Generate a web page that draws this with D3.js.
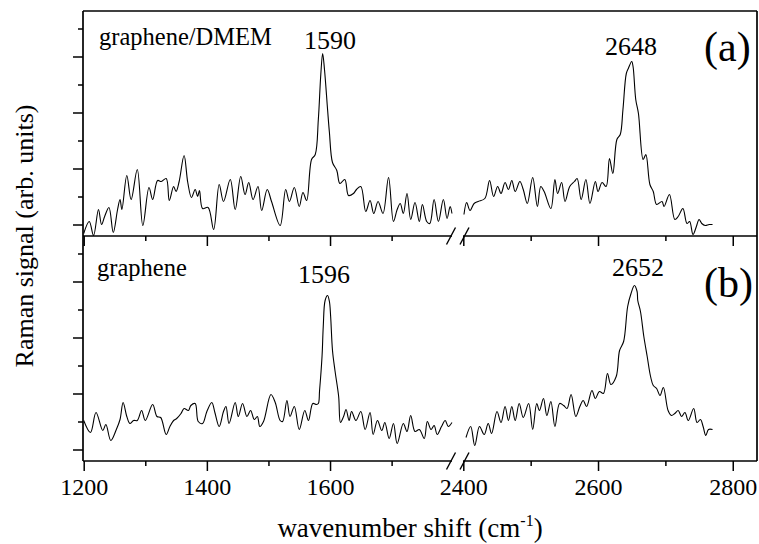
<!DOCTYPE html>
<meta charset="utf-8">
<script src="https://d3js.org/d3.v7.min.js"></script>
<div id="chart"></div>
<script>
// ---- data (wavenumber in cm-1, intensity in arb. units) ----
// panel (a): graphene/DMEM, G band region
var aLowX = [1200,1209,1216,1224,1229,1234,1241,1248,1255,1259,1262,1270,1277,1287,1296,1306,1312,1320,1326,1334,1339,1346,1350,1355,1363,1369,1375,1381,1385,1388,1393,1402,1411,1420,1427,1438,1446,1455,1462,1468,1475,1483,1489,1498,1505,1519,1528,1534,1542,1550,1556,1562,1570,1576,1581,1585,1588,1591,1596,1599,1604,1611,1616,1624,1630,1638,1643,1650,1658,1665,1671,1678,1686,1695,1703,1709,1714,1719,1725,1731,1738,1745,1750,1757,1762,1769,1776,1784,1790,1795,1798];
var aLowY = [-9,3,-11,15,0,8,17,-8,15,25,15,49,25,55,-1,37,25,44,43,46,24,38,33,43,69,42,27,35,28,34,16,17,-5,40,23,45,15,48,30,42,25,38,14,35,23,-1,35,23,37,18,32,24,65,70,105,150,171,155,115,92,62,54,41,45,29,31,35,38,13,24,11,23,11,47,3,15,21,11,31,5,22,3,20,3,1,25,3,25,6,18,11];
// panel (a): 2D band region
var aHighX = [2401,2405,2410,2416,2422,2432,2439,2445,2451,2456,2462,2467,2472,2477,2484,2489,2495,2503,2510,2515,2520,2530,2536,2540,2546,2551,2558,2565,2569,2575,2582,2588,2596,2600,2606,2612,2617,2622,2628,2633,2637,2642,2645,2650,2652,2656,2660,2667,2671,2677,2682,2687,2695,2698,2706,2714,2719,2726,2732,2736,2741,2746,2750,2754,2759,2765,2770];
var aHighY = [10,22,14,21,23,26,44,28,38,31,42,35,44,33,43,35,21,47,18,38,33,16,45,31,42,23,38,43,46,25,45,21,43,33,42,38,66,51,85,90,115,151,156,163,158,125,111,65,70,40,33,20,23,18,30,5,8,16,1,3,-10,-2,5,1,-1,0,0];
// panel (b): graphene, G band region
var bLowX = [1200,1211,1220,1231,1236,1244,1253,1259,1264,1270,1275,1281,1287,1294,1300,1312,1319,1325,1334,1340,1346,1351,1358,1363,1370,1374,1381,1386,1393,1400,1408,1413,1420,1427,1431,1436,1446,1451,1458,1465,1471,1477,1482,1486,1492,1504,1511,1519,1523,1530,1535,1542,1550,1559,1565,1572,1578,1581,1583,1587,1589,1592,1596,1599,1601,1604,1608,1614,1617,1622,1626,1631,1635,1642,1650,1657,1665,1670,1677,1684,1689,1696,1703,1709,1719,1725,1731,1738,1745,1753,1758,1764,1769,1774,1781,1787,1792,1798];
var bLowY = [29,17,37,19,25,9,20,30,47,33,26,29,29,39,29,45,33,32,15,23,29,31,36,41,39,44,46,28,26,38,47,37,23,38,43,26,47,33,46,33,39,30,33,23,28,55,47,29,28,49,33,43,20,39,29,46,45,46,59,93,123,149,154,148,133,99,79,53,27,33,40,29,38,29,38,20,37,15,29,19,27,11,26,6,26,18,34,18,20,11,28,20,24,15,23,29,23,27];
// panel (b): 2D band region
var bHighX = [2404,2411,2417,2424,2431,2437,2442,2450,2456,2462,2467,2472,2477,2483,2489,2497,2503,2509,2513,2519,2524,2530,2536,2543,2549,2554,2560,2567,2573,2578,2583,2591,2596,2602,2608,2614,2619,2627,2632,2638,2644,2649,2654,2658,2659,2663,2668,2673,2678,2682,2687,2692,2697,2704,2709,2714,2719,2724,2729,2734,2742,2747,2752,2756,2760,2764,2770];
var bHighY = [12,23,4,23,15,26,16,38,27,43,29,43,29,46,32,46,20,46,39,51,34,48,23,46,44,41,55,33,43,49,43,59,51,58,56,76,65,73,99,108,143,156,164,158,149,138,113,93,73,64,61,54,62,39,34,36,39,33,37,29,41,27,30,23,14,20,20];

// axis ticks and labels
var xMajorLow = [1200, 1400, 1600], xMinorLow = [1300, 1500, 1700];
var xMajorHigh = [2400, 2600, 2800], xMinorHigh = [2500, 2700];
var yMajor = [0, 56, 112, 168], yMinor = [28, 84, 140, 196];

var panels = [
  {name: "graphene/DMEM", tag: "(a)", lowX: aLowX, lowY: aLowY, highX: aHighX, highY: aHighY,
   peak1: "1590", peak2: "2648"},
  {name: "graphene", tag: "(b)", lowX: bLowX, lowY: bLowY, highX: bHighX, highY: bHighY,
   peak1: "1596", peak2: "2652"}
];

// ---- layout ----
var FONT = "'Liberation Serif'";
var W = 759, H = 544;
var padL = 83, padR = 757, padT = 11, midY = 236, padB = 461;
var breakL = 452, breakR = 463;

var svg = d3.select("#chart").append("svg")
  .attr("width", W).attr("height", H)
  .style("display", "block");
d3.select("body").style("margin", "0px");

// broken x axis: two scales
var xLow = d3.scaleLinear().domain([1200, 1800]).range([83.7, 453.2]);
var xHigh = d3.scaleLinear().domain([2400, 2836]).range([463.3, 757]);

var panelTops = [padT, midY], panelBottoms = [midY, padB];

function label(x, y, size, str, anchor) {
  return svg.append("text").attr("x", x).attr("y", y)
    .style("font-family", FONT).attr("font-size", size)
    .attr("text-anchor", anchor || "start").attr("fill", "#000").text(str);
}

panels.forEach(function(p, i) {
  var y = d3.scaleLinear().domain([-11.5, 213.5]).range([panelBottoms[i], panelTops[i]]);

  svg.append("clipPath").attr("id", "clip" + i)
    .append("rect").attr("x", padL).attr("y", panelTops[i])
    .attr("width", padR - padL).attr("height", panelBottoms[i] - panelTops[i]);

  var line = d3.line()
    .curve(d3.curveCatmullRom.alpha(0.5))
    .x(function(d) { return d.s(d.x); })
    .y(function(d) { return y(d.y); });

  var seg1 = p.lowX.map(function(v, k) { return {x: v, y: p.lowY[k], s: xLow}; });
  var seg2 = p.highX.map(function(v, k) { return {x: v, y: p.highY[k], s: xHigh}; });

  [seg1, seg2].forEach(function(seg) {
    svg.append("path")
      .attr("clip-path", "url(#clip" + i + ")")
      .attr("d", line(seg))
      .attr("fill", "none")
      .attr("stroke", "#000")
      .attr("stroke-width", 1.1)
      .attr("stroke-linejoin", "round");
  });

  // y ticks (left, outward)
  svg.append("g").attr("class", "tick-axis")
    .attr("transform", "translate(" + padL + ",0)")
    .call(d3.axisLeft(y).tickValues(yMajor).tickSize(10).tickFormat(""));
  svg.append("g").attr("class", "tick-axis")
    .attr("transform", "translate(" + padL + ",0)")
    .call(d3.axisLeft(y).tickValues(yMinor).tickSize(5).tickFormat(""));

  // x ticks below each panel
  var yb = panelBottoms[i];
  var showLabels = (i === 1);
  [[xLow, xMajorLow, xMinorLow], [xHigh, xMajorHigh, xMinorHigh]].forEach(function(s) {
    var gM = svg.append("g").attr("class", "tick-axis")
      .attr("transform", "translate(0," + yb + ")")
      .call(d3.axisBottom(s[0]).tickValues(s[1]).tickSize(10)
        .tickFormat(showLabels ? d3.format("d") : ""));
    svg.append("g").attr("class", "tick-axis")
      .attr("transform", "translate(0," + yb + ")")
      .call(d3.axisBottom(s[0]).tickValues(s[2]).tickSize(5).tickFormat(""));
    gM.selectAll("text").attr("font-size", 24).attr("dy", null).attr("y", 34);
  });

  // annotations
  label(i === 0 ? 99 : 97, i === 0 ? 45 : 275.5, 24.5, p.name);
  label(i === 0 ? 330 : 324, i === 0 ? 49 : 282.5, 26, p.peak1, "middle");
  label(i === 0 ? 631 : 638, i === 0 ? 55 : 275.5, 26, p.peak2, "middle");
  label(704, i === 0 ? 61 : 297, 42, p.tag);
});

// strip axis domain paths, style ticks
svg.selectAll(".tick-axis .domain").remove();
svg.selectAll(".tick-axis").attr("font-family", null);
svg.selectAll(".tick-axis line").attr("stroke", "#000").attr("stroke-width", 1.5);
svg.selectAll(".tick-axis text").attr("fill", "#000").style("font-family", FONT);

// frame
var frame = svg.append("g").attr("stroke", "#000").attr("stroke-width", 1.7).attr("fill", "none");
frame.append("line").attr("x1", padL).attr("x2", padR).attr("y1", padT).attr("y2", padT);
frame.append("line").attr("x1", padL).attr("x2", padL).attr("y1", padT).attr("y2", padB);
frame.append("line").attr("x1", padR).attr("x2", padR).attr("y1", padT).attr("y2", padB);
[midY, padB].forEach(function(yy) {
  frame.append("line").attr("x1", padL).attr("x2", breakL).attr("y1", yy).attr("y2", yy);
  frame.append("line").attr("x1", breakR).attr("x2", padR).attr("y1", yy).attr("y2", yy);
  [451, 464.5].forEach(function(cx) {
    frame.append("line").attr("stroke-width", 1.4)
      .attr("x1", cx - 4.5).attr("y1", yy + 8.5)
      .attr("x2", cx + 4.5).attr("y2", yy - 8.5);
  });
});

// axis titles
var xt = label(410, 536.5, 27, "", "middle");
xt.append("tspan").text("wavenumber shift (cm");
xt.append("tspan").attr("font-size", 16).attr("dy", -11).text("-1");
xt.append("tspan").attr("dy", 11).text(")");

svg.append("text")
  .attr("transform", "translate(33,236) rotate(-90)")
  .style("font-family", FONT)
  .attr("text-anchor", "middle").attr("font-size", 26)
  .text("Raman signal (arb. units)");
</script>
